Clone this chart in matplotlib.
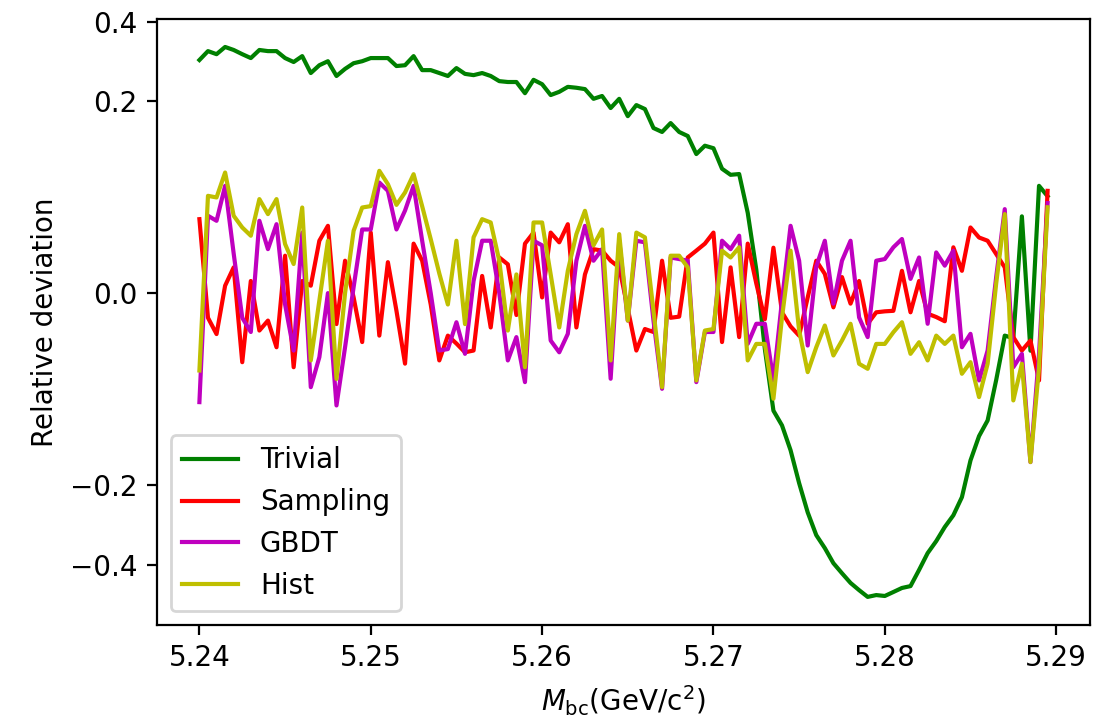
import numpy as np
import matplotlib
matplotlib.use("Agg")
import matplotlib.pyplot as plt

# bin positions of M_bc
mbc = 5.24 + 0.0005 * np.arange(100)

trivial = [0.295, 0.318, 0.310, 0.329, 0.321, 0.310, 0.300, 0.321, 0.318, 0.318,
           0.300, 0.290, 0.305, 0.263, 0.282, 0.292, 0.256, 0.273, 0.287, 0.292,
           0.300, 0.300, 0.300, 0.280, 0.282, 0.305, 0.270, 0.270, 0.263, 0.256,
           0.275, 0.261, 0.258, 0.263, 0.256, 0.244, 0.242, 0.242, 0.217, 0.247,
           0.237, 0.213, 0.220, 0.231, 0.229, 0.226, 0.205, 0.211, 0.186, 0.205,
           0.170, 0.192, 0.184, 0.148, 0.141, 0.157, 0.141, 0.134, 0.105, 0.118,
           0.114, 0.084, 0.076, 0.077, 0.035, 0.003, -0.017, -0.075, -0.095, -0.134,
           -0.196, -0.261, -0.318, -0.353, -0.396, -0.426, -0.456, -0.479, -0.501, -0.495,
           -0.498, -0.485, -0.472, -0.466, -0.416, -0.367, -0.334, -0.297, -0.268, -0.226,
           -0.152, -0.111, -0.088, -0.041, -0.0098, -0.011, 0.032, -0.018, 0.0625, 0.051]

sampling = [0.0297, -0.0033, -0.0091, 0.0003, 0.0036, -0.0259, 0.0008, -0.0076, -0.0041, -0.0159,
            0.0076, -0.0298, 0.0008, 0.0003, 0.0149, 0.0246, -0.0052, 0.0057, -0.0001, -0.013,
            0.0199, -0.0098, 0.0052, -0.0017, -0.027, 0.0133, 0.0057, -0.0007, -0.0246, -0.0098,
            -0.0138, -0.019, -0.0179, 0.0016, -0.0064, 0.0069, 0.0045, -0.0026, 0.0133, 0.0199,
            -0.0001, 0.0199, 0.014, 0.0258, -0.0064, 0.0019, 0.0105, 0.0098, 0.0057, 0.0036,
            -0.0013, -0.0179, -0.007, -0.0082, 0.0057, -0.0033, -0.003, 0.0069, 0.0098, 0.0133,
            0.0199, -0.013, 0.0036, -0.0105, 0.0133, 0.0005, -0.0037, 0.0112, -0.002, -0.006,
            -0.0098, -0.0001, 0.0057, 0.002, -0.0011, 0.0014, -0.0006, 0.0008, -0.0051, -0.002,
            -0.0018, -0.0017, 0.0027, -0.002, 0.0008, -0.0023, -0.0031, -0.0043, 0.0114, 0.0027,
            0.0234, 0.0168, 0.0149, 0.0083, 0.0036, -0.0105, -0.0179, -0.0122, -0.0414, 0.0568]

gbdt = [-0.0645, 0.0325, 0.0284, 0.0625, 0.0085, -0.0033, -0.0082, 0.0284, 0.0105, 0.0258,
        -0.0007, -0.0179, 0.0199, -0.048, -0.0223, 0.0, -0.0685, -0.0159, 0.0002, 0.022,
        0.022, 0.0664, 0.0568, 0.022, 0.037, 0.0625, 0.0149, 0.0, -0.0179, -0.017,
        -0.0046, -0.02, 0.0008, 0.0149, 0.0149, 0.0, -0.0246, -0.0105, -0.043, 0.0149,
        0.0124, -0.0122, -0.019, -0.009, 0.0057, 0.0246, 0.0057, 0.0105, -0.0398, 0.015,
        -0.0041, 0.0149, 0.014, -0.0041, -0.0497, 0.0069, 0.0063, 0.0057, -0.043, -0.0082,
        -0.0082, 0.0149, 0.0105, 0.0179, -0.014, -0.0051, -0.0051, -0.0414, -0.0003, 0.0246,
        0.0057, -0.0149, 0.0038, 0.0149, -0.0006, 0.0057, 0.0149, -0.0032, -0.0105, 0.0057,
        0.0063, 0.0114, 0.0159, 0.0011, 0.0069, -0.0051, 0.009, 0.0041, 0.0098, -0.0159,
        -0.009, -0.0414, -0.0179, 0.0014, 0.0383, -0.0298, -0.02, -0.155, -0.02, 0.044]

hist = [-0.0325, 0.0514, 0.0497, 0.079, 0.0325, 0.0234, 0.0179, 0.048, 0.0339, 0.048,
        0.0131, 0.0046, 0.0398, -0.0246, -0.0003, 0.0149, -0.04, 0.0, 0.0211, 0.0398,
        0.0411, 0.0812, 0.0645, 0.0423, 0.055, 0.0768, 0.041, 0.0158, 0.0021, -0.0007,
        0.0149, -0.0052, 0.0169, 0.0297, 0.0271, 0.0057, -0.0076, 0.0019, -0.0298, 0.0271,
        0.0271, 0.0019, -0.0064, 0.0027, 0.0189, 0.0368, 0.0124, 0.022, -0.0246, 0.0189,
        -0.0041, 0.0199, 0.0169, -0.0017, -0.048, 0.0076, 0.0076, 0.0036, -0.0414, -0.0076,
        -0.007, 0.0098, 0.0069, 0.0114, -0.0246, -0.014, -0.014, -0.0606, -0.0032, 0.0098,
        -0.0076, -0.0339, -0.0159, -0.0057, -0.0211, -0.0122, -0.0051, -0.0271, -0.0311, -0.014,
        -0.014, -0.0083, -0.0046, -0.02, -0.0131, -0.0246, -0.0098, -0.014, -0.0098, -0.0353,
        -0.0259, -0.0587, -0.0271, 0.0005, 0.0339, -0.0625, -0.0271, -0.155, -0.03, 0.04]

yticks = [-0.4, -0.2, 0.0, 0.2, 0.4]


# symmetric square-root axis
def fwd(v):
    v = np.asarray(v, dtype=float)
    return np.sign(v) * np.sqrt(np.abs(v))


def inv(v):
    v = np.asarray(v, dtype=float)
    return np.sign(v) * v ** 2


fig = plt.figure(figsize=(1103 / 200, 721 / 200), dpi=200)
ax = fig.add_axes([157 / 1103, 96 / 721, 933 / 1103, 606 / 721])

ax.plot(mbc, trivial, color='g', label='Trivial')
ax.plot(mbc, sampling, color='r', label='Sampling')
ax.plot(mbc, gbdt, color='m', label='GBDT')
ax.plot(mbc, hist, color='y', label='Hist')

ax.set_yscale('function', functions=(fwd, inv))
ax.set_yticks(yticks)
ax.set_yticklabels(['\u22120.4', '\u22120.2', '0.0', '0.2', '0.4'])
ax.set_ylim(-0.598, 0.408)
ax.set_xticks([5.24, 5.25, 5.26, 5.27, 5.28, 5.29])

ax.set_xlabel(r'$M_{\rm bc}$(GeV/c$^2$)')
ax.set_ylabel('Relative deviation')
ax.legend(loc='lower left')

fig.savefig('out.png', dpi=200)
